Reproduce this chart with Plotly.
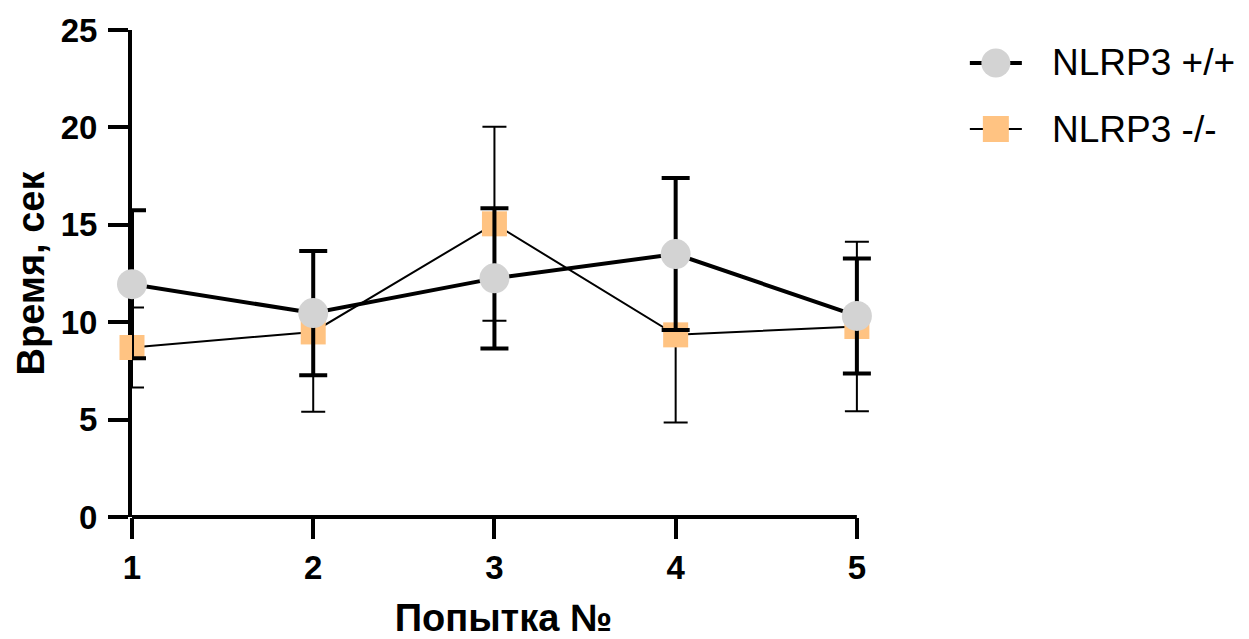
import plotly.graph_objects as go

# ---------------- data ----------------
attempts = [1, 2, 3, 4, 5]
wt_name = "NLRP3 +/+"
wt_mean = [11.95, 10.47, 12.25, 13.5, 10.32]
wt_err = [3.8, 3.19, 3.6, 3.9, 2.95]
ko_name = "NLRP3 -/-"
ko_mean = [8.7, 9.5, 15.05, 9.35, 9.78]
ko_err = [2.05, 4.1, 4.98, 4.5, 4.35]
y_ticks = [0, 5, 10, 15, 20, 25]
x_title = "Попытка №"
y_title = "Время, сек"

GREY = "#D3D3D3"
ORANGE = "#FFC382"
FONT = "Liberation Sans"

W, H = 1249, 639
X_RANGE = [1, 5.1]          # small pad on the right so the last error caps are not clipped
ML, MT, MB = 132, 30, 122
PX_PER_UNIT = 181.25
PW = PX_PER_UNIT * (X_RANGE[1] - X_RANGE[0])
MR = W - ML - PW
PH = H - MT - MB

fig = go.Figure()

fig.add_trace(go.Scatter(
    x=attempts, y=ko_mean, name=ko_name, mode="lines+markers",
    line=dict(color="black", width=2),
    marker=dict(symbol="square", size=25, color=ORANGE),
    error_y=dict(type="data", array=ko_err, visible=True, color="black",
                 thickness=2, width=12),
    cliponaxis=False, showlegend=False,
))
fig.add_trace(go.Scatter(
    x=attempts, y=wt_mean, name=wt_name, mode="lines+markers",
    line=dict(color="black", width=4),
    marker=dict(symbol="circle", size=30, color=GREY),
    error_y=dict(type="data", array=wt_err, visible=True, color="black",
                 thickness=4, width=14),
    cliponaxis=False, showlegend=False,
))

# ---------- custom legend (pixel-sized glyphs) ----------
def px2paper(px, py):
    return (px - ML) / PW, (H - MB - py) / PH

shapes = [
    # x axis line, ending at the last category like the original
    dict(type="line", xref="x", yref="paper", x0=attempts[0], x1=attempts[-1],
         y0=0, y1=0, ysizemode="pixel", yanchor=0, layer="below",
         line=dict(color="black", width=4)),
]
annotations = []
legend_items = [
    (wt_name, 63, "circle", GREY, 4, 29),
    (ko_name, 129, "square", ORANGE, 2, 26),
]
for name, py, sym, col, lw, sz in legend_items:
    xa, ya = px2paper(996, py)
    shapes.append(dict(type="line", xref="paper", yref="paper",
                       xsizemode="pixel", ysizemode="pixel",
                       xanchor=xa, yanchor=ya, x0=-26, x1=26, y0=0, y1=0,
                       line=dict(color="black", width=lw)))
    shapes.append(dict(type="circle" if sym == "circle" else "rect",
                       xref="paper", yref="paper",
                       xsizemode="pixel", ysizemode="pixel",
                       xanchor=xa, yanchor=ya,
                       x0=-sz / 2, x1=sz / 2, y0=-sz / 2, y1=sz / 2,
                       fillcolor=col, line=dict(width=0)))
    tx, ty = px2paper(1050, py)
    annotations.append(dict(text=name, xref="paper", yref="paper", x=tx, y=ty,
                            xanchor="left", yanchor="middle", showarrow=False,
                            font=dict(family=FONT, size=37, color="black")))

fig.update_layout(
    width=W, height=H,
    margin=dict(l=ML, r=MR, t=MT, b=MB, autoexpand=False),
    paper_bgcolor="white", plot_bgcolor="white",
    showlegend=False,
    shapes=shapes, annotations=annotations,
    font=dict(family=FONT, color="black"),
    xaxis=dict(
        range=X_RANGE, tickvals=attempts, ticktext=[str(a) for a in attempts],
        showgrid=False, zeroline=False, showline=False,
        ticks="outside", ticklen=21, tickwidth=4, tickcolor="black",
        tickfont=dict(family=FONT, size=33, weight="bold", color="black"),
        ticklabelstandoff=0, layer="below traces", automargin=False,
        title=dict(text=x_title, standoff=26,
                   font=dict(family=FONT, size=38, weight="bold", color="black")),
    ),
    yaxis=dict(
        range=[0, 25], tickvals=y_ticks,
        showgrid=False, zeroline=False, showline=True, linecolor="black",
        linewidth=4, ticks="outside", ticklen=20, tickwidth=4, tickcolor="black",
        tickfont=dict(family=FONT, size=33, weight="bold", color="black"),
        ticklabelstandoff=4, layer="below traces", automargin=False,
        title=dict(text=y_title, standoff=5,
                   font=dict(family=FONT, size=38, weight="bold", color="black")),
    ),
)

fig.write_html("out.html", config={"displayModeBar": False},
               post_script="document.body.style.margin='0';document.body.style.overflow='hidden';")
